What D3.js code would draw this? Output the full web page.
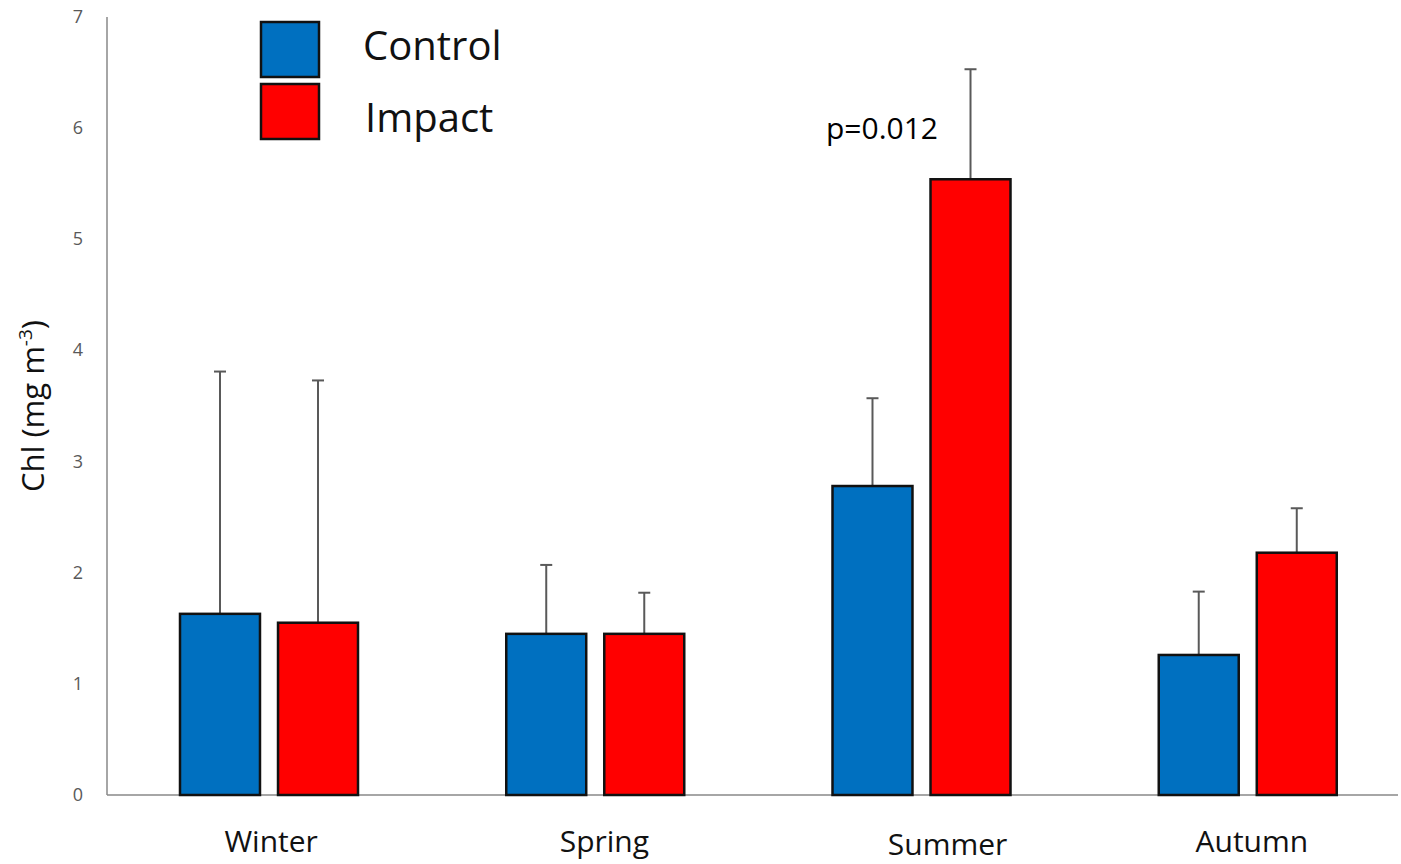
<!DOCTYPE html>
<html>
<head>
<meta charset="utf-8">
<script src="https://cdn.jsdelivr.net/npm/d3@7"></script>
<style>
  body { margin: 0; background: #fff; }
  text { font-family: "Open Sans", "Noto Sans", sans-serif; }
</style>
</head>
<body>
<svg id="chart" width="1401" height="864"></svg>
<script>
// seasons and series
var seasons = ['Winter', 'Spring', 'Summer', 'Autumn'];
var series = ['Control', 'Impact'];
var controlMean = [1.63, 1.45, 2.78, 1.26];
var controlErr = [2.18, 0.62, 0.79, 0.57];
var impactMean = [1.55, 1.45, 5.54, 2.18];
var impactErr = [2.18, 0.37, 0.99, 0.40];
var yTicks = [0, 1, 2, 3, 4, 5, 6, 7];
var colors = { Control: '#0070C0', Impact: '#FF0000' };

// label nudges, the source placed these by hand
var labelDx = { Winter: 3, Spring: 10, Summer: 27, Autumn: 5 };
var labelY = { Winter: 852, Spring: 852, Summer: 855, Autumn: 852 };

var svg = d3.select('#chart');

var y = d3.scaleLinear().domain([0, 7]).range([795, 17]);
var x = d3.scaleBand().domain(seasons).range([105, 1410]);
var inner = d3.scaleBand().domain(series).range([75, 253]).paddingInner(0.184);

var rows = [];
seasons.forEach(function(s, i) {
    rows.push({ season: s, series: 'Control', value: controlMean[i], err: controlErr[i] });
    rows.push({ season: s, series: 'Impact', value: impactMean[i], err: impactErr[i] });
});

function cx(d) { return x(d.season) + inner(d.series) + inner.bandwidth() / 2; }

// axes lines
svg.append('line')
    .attr('x1', 107).attr('x2', 107)
    .attr('y1', 17).attr('y2', 795)
    .attr('stroke', '#888').attr('stroke-width', 1.5);
svg.append('line')
    .attr('x1', 107).attr('x2', 1398)
    .attr('y1', 795).attr('y2', 795)
    .attr('stroke', '#888').attr('stroke-width', 1.5);

// y tick labels
svg.append('g').selectAll('text')
    .data(yTicks).enter()
    .append('text')
    .attr('x', 78)
    .attr('y', function(d) { return y(d) + 6; })
    .attr('text-anchor', 'middle')
    .attr('font-size', 18)
    .attr('fill', '#595959')
    .text(function(d) { return d; });

// error bars (drawn under bars)
var eb = svg.append('g').selectAll('g')
    .data(rows).enter()
    .append('g')
    .attr('stroke', '#595959')
    .attr('stroke-width', 2);
eb.append('line')
    .attr('x1', cx).attr('x2', cx)
    .attr('y1', function(d) { return y(d.value); })
    .attr('y2', function(d) { return y(d.value + d.err); });
eb.append('line')
    .attr('x1', function(d) { return cx(d) - 6; })
    .attr('x2', function(d) { return cx(d) + 6; })
    .attr('y1', function(d) { return y(d.value + d.err); })
    .attr('y2', function(d) { return y(d.value + d.err); });

// bars
svg.append('g').selectAll('rect')
    .data(rows).enter()
    .append('rect')
    .attr('x', function(d) { return x(d.season) + inner(d.series); })
    .attr('y', function(d) { return y(d.value); })
    .attr('width', inner.bandwidth())
    .attr('height', function(d) { return y(0) - y(d.value); })
    .attr('fill', function(d) { return colors[d.series]; })
    .attr('stroke', '#111')
    .attr('stroke-width', 2.5);

// category labels
svg.append('g').selectAll('text')
    .data(seasons).enter()
    .append('text')
    .attr('x', function(d) { return x(d) + x.bandwidth() / 2 + labelDx[d]; })
    .attr('y', function(d) { return labelY[d]; })
    .attr('text-anchor', 'middle')
    .attr('font-size', 30)
    .attr('fill', '#111')
    .text(function(d) { return d; });

// y axis title
var yt = svg.append('text')
    .attr('transform', 'translate(44,406) rotate(-90)')
    .attr('text-anchor', 'middle')
    .attr('font-size', 31)
    .attr('fill', '#111');
yt.append('tspan').text('Chl (mg m');
yt.append('tspan').attr('font-size', 19).attr('dy', -12).text('-3');
yt.append('tspan').attr('dy', 12).text(')');

// p value annotation
svg.append('text')
    .attr('x', 826).attr('y', 139)
    .attr('font-size', 30)
    .attr('fill', '#000')
    .text('p=0.012');

// legend
var legend = svg.append('g').selectAll('g')
    .data(series).enter()
    .append('g')
    .attr('transform', function(d, i) { return 'translate(261,' + (22 + i * 62) + ')'; });
legend.append('rect')
    .attr('width', 58).attr('height', 55)
    .attr('fill', function(d) { return colors[d]; })
    .attr('stroke', '#111')
    .attr('stroke-width', 2.5);
legend.append('text')
    .attr('x', function(d, i) { return 102 + i * 2; })
    .attr('y', function(d, i) { return 38 + i * 10; })
    .attr('font-size', 40)
    .attr('fill', '#111')
    .text(function(d) { return d; });
</script>
</body>
</html>
